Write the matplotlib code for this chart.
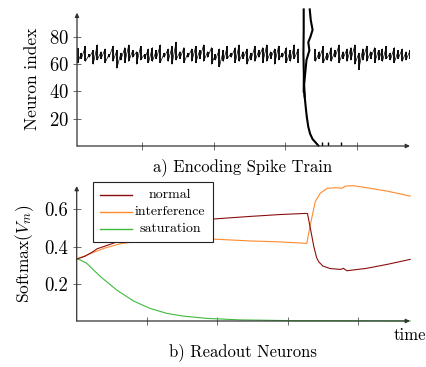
import matplotlib
matplotlib.use("Agg")
import matplotlib.pyplot as plt
from matplotlib.patches import Rectangle
from matplotlib.lines import Line2D
import numpy as np

plt.rcParams['font.family'] = ['cmr10', 'DejaVu Serif']
plt.rcParams['mathtext.fontset'] = 'cm'
plt.rcParams['axes.unicode_minus'] = False
plt.rcParams['axes.formatter.use_mathtext'] = True

# ---------------- data: top panel (spike train) ----------------
stroke_step = 0.055
pre_start = 0.10
pre_hi = [72, 68, 73, 67, 70, 74, 69, 71, 67, 73,
          70, 68, 72, 74, 70, 69, 73, 67, 71, 72,
          70, 74, 68, 71, 73, 76, 69, 72, 68, 71,
          73, 70, 74, 69, 72, 67, 71, 70, 73, 68,
          72, 74, 69, 71, 68, 73, 70, 72, 74, 69,
          71, 73, 68, 72, 70, 74, 71]
pre_lo = [61, 64, 62, 65, 60, 63, 64, 61, 65, 62,
          57, 63, 61, 62, 65, 60, 63, 64, 61, 62,
          64, 61, 65, 62, 60, 63, 64, 61, 65, 62,
          61, 64, 62, 65, 60, 63, 58, 62, 64, 65,
          61, 62, 64, 60, 63, 62, 65, 61, 62, 64,
          60, 63, 65, 61, 62, 64, 61]
post_start = 3.42
post_hi = [71, 69, 73, 68, 72, 70, 74, 69, 71, 72,
           74, 68, 71, 73, 69, 72, 70, 71, 73, 68,
           72, 70, 71, 69, 70]
post_lo = [62, 64, 61, 63, 62, 65, 61, 64, 62, 63,
           60, 56, 63, 62, 64, 61, 63, 62, 64, 63,
           61, 64, 62, 63, 64]
burst_left_t = [3.256, 3.256, 3.252, 3.258, 3.256]
burst_left_n = [100, 85, 68, 52, 40]
burst_right_t = [3.34, 3.355, 3.38, 3.35, 3.32, 3.335, 3.295, 3.28, 3.262, 3.27]
burst_right_n = [100, 92, 85, 80, 76, 70, 63, 55, 45, 36]
burst_tail_t = [3.262, 3.27, 3.285, 3.30, 3.32, 3.345, 3.38, 3.44, 3.46]
burst_tail_n = [40, 36, 28, 21, 14, 9, 5, 1.5, 0.3]
late_spikes_t = [3.507, 3.60, 3.77]
late_spikes_n = [3, 3, 3]

# ---------------- data: bottom panel (readout) ----------------
normal_t = [0, 0.114, 0.23, 0.29, 0.40, 0.52, 0.62, 0.76, 1.04, 1.47, 1.94, 2.47, 2.89,
            3.25, 3.28, 3.33, 3.37, 3.41, 3.44, 3.50, 3.60, 3.75, 3.79, 3.84, 4.12,
            4.41, 4.74]
normal_v = [0.333, 0.347, 0.372, 0.388, 0.402, 0.418, 0.432, 0.465, 0.505, 0.532, 0.548,
            0.562, 0.572, 0.578, 0.577, 0.48, 0.40, 0.34, 0.318, 0.295, 0.282, 0.277,
            0.283, 0.27, 0.283, 0.304, 0.331]
interf_t = [0, 0.114, 0.247, 0.40, 0.62, 0.90, 1.33, 1.94, 2.47, 2.89, 3.27, 3.32,
            3.39, 3.46, 3.56, 3.70, 3.77, 3.82, 3.93, 4.12, 4.41, 4.74]
interf_v = [0.333, 0.35, 0.37, 0.392, 0.415, 0.43, 0.437, 0.44, 0.43, 0.425, 0.417, 0.516,
            0.641, 0.686, 0.713, 0.716, 0.713, 0.725, 0.727, 0.716, 0.698, 0.671]
satur_t = [0, 0.05, 0.142, 0.33, 0.57, 0.81, 1.04, 1.28, 1.52, 1.85, 2.32, 3.03, 4.74]
satur_v = [0.333, 0.328, 0.31, 0.241, 0.166, 0.107, 0.068, 0.041, 0.026, 0.014, 0.006,
           0.002, 0.0005]

legend_labels = ["normal", "interference", "saturation"]
c_normal, c_interf, c_satur = "#8b0f0f", "#ff8a2e", "#3fba3f"

W, H = 426, 367
fig = plt.figure(figsize=(W / 100, H / 100), dpi=100)

def fx(px):
    return px / W

def fy(py):
    return 1 - py / H

axis_col = "#333333"

def style_axes(ax):
    for s in ['top', 'right', 'left', 'bottom']:
        ax.spines[s].set_visible(False)
    ax.annotate('', xy=(1.0, 0), xytext=(0, 0), xycoords='axes fraction',
                arrowprops=dict(arrowstyle='-|>', color=axis_col, lw=0.9,
                                mutation_scale=6, shrinkA=0, shrinkB=0))
    ax.annotate('', xy=(0, 1.0), xytext=(0, 0), xycoords='axes fraction',
                arrowprops=dict(arrowstyle='-|>', color=axis_col, lw=0.9,
                                mutation_scale=6, shrinkA=0, shrinkB=0))
    ax.tick_params(direction='inout', length=6, width=0.6, color='#555555',
                   labelsize=13.5, pad=3)
    ax.set_xticklabels([])

def draw_strokes(ax, t0, hi, lo):
    t = t0 + stroke_step * np.arange(len(hi))
    ax.vlines(t, lo, hi, color='black', lw=1.3)
    cx, cy = [], []
    for i in range(len(hi) - 1):
        cx += [t[i], t[i + 1], np.nan]
        cy += [lo[i], hi[i + 1], np.nan]
    ax.plot(cx, cy, color='black', lw=0.5)

# ---------- top axes ----------
ax1 = fig.add_axes([fx(77), fy(146), fx(410) - fx(77), fy(12.7) - fy(146)])
draw_strokes(ax1, pre_start, pre_hi, pre_lo)
draw_strokes(ax1, post_start, post_hi, post_lo)
lw_b = 1.5
ax1.plot(burst_left_t, burst_left_n, color='black', lw=lw_b, clip_on=False)
ax1.plot(burst_right_t, burst_right_n, color='black', lw=lw_b, clip_on=False)
ax1.plot(burst_tail_t, burst_tail_n, color='black', lw=lw_b, clip_on=False)
ax1.vlines(late_spikes_t, 0, late_spikes_n, color='black', lw=1.0)
ax1.set_xlim(0.093, 4.739)
ax1.set_ylim(0, 97.6)
ax1.set_xticks([1, 2, 3, 4])
ax1.set_yticks([20, 40, 60, 80])
style_axes(ax1)
ax1.set_ylabel("Neuron index", fontsize=12.5, labelpad=6)
fig.text(fx(243), fy(167), "a) Encoding Spike Train", ha='center', va='center', fontsize=12)

# ---------- bottom axes ----------
ax2 = fig.add_axes([fx(76.7), fy(321), fx(410) - fx(76.7), fy(186) - fy(321)])
ax2.plot(satur_t, satur_v, color=c_satur, lw=0.8, clip_on=False)
ax2.plot(interf_t, interf_v, color=c_interf, lw=0.8, clip_on=False)
ax2.plot(normal_t, normal_v, color=c_normal, lw=0.8, clip_on=False)
ax2.set_xlim(0, 4.737)
ax2.set_ylim(0, 0.7253)
ax2.set_xticks([1, 2, 3, 4])
ax2.set_yticks([0.2, 0.4, 0.6])
ax2.set_yticklabels(["0.2", "0.4", "0.6"])
style_axes(ax2)
ax2.set_ylabel(r"Softmax($V_m$)", fontsize=12.5, labelpad=6)
fig.text(fx(243), fy(352), "b) Readout Neurons", ha='center', va='center', fontsize=12)
fig.text(fx(394), fy(335), "time", ha='left', va='center', fontsize=12)

# manual legend (pgfplots style: centered text)
leg_box = Rectangle((fx(93.3), fy(241.7)), fx(213.3) - fx(93.3), fy(182.3) - fy(241.7),
                    transform=fig.transFigure, facecolor='white', edgecolor='#222222',
                    lw=0.8, zorder=5)
fig.patches.append(leg_box)
leg_cols = [c_normal, c_interf, c_satur]
leg_rows = [195, 212.3, 229]
for lab, col, ry in zip(legend_labels, leg_cols, leg_rows):
    fig.lines.append(Line2D([fx(100), fx(131.7)], [fy(ry), fy(ry)],
                            transform=fig.transFigure, color=col, lw=1.0, zorder=6))
    fig.text(fx(170), fy(ry), lab, ha='center', va='center', fontsize=10, zorder=6)

fig.savefig("out.png", dpi=100)
